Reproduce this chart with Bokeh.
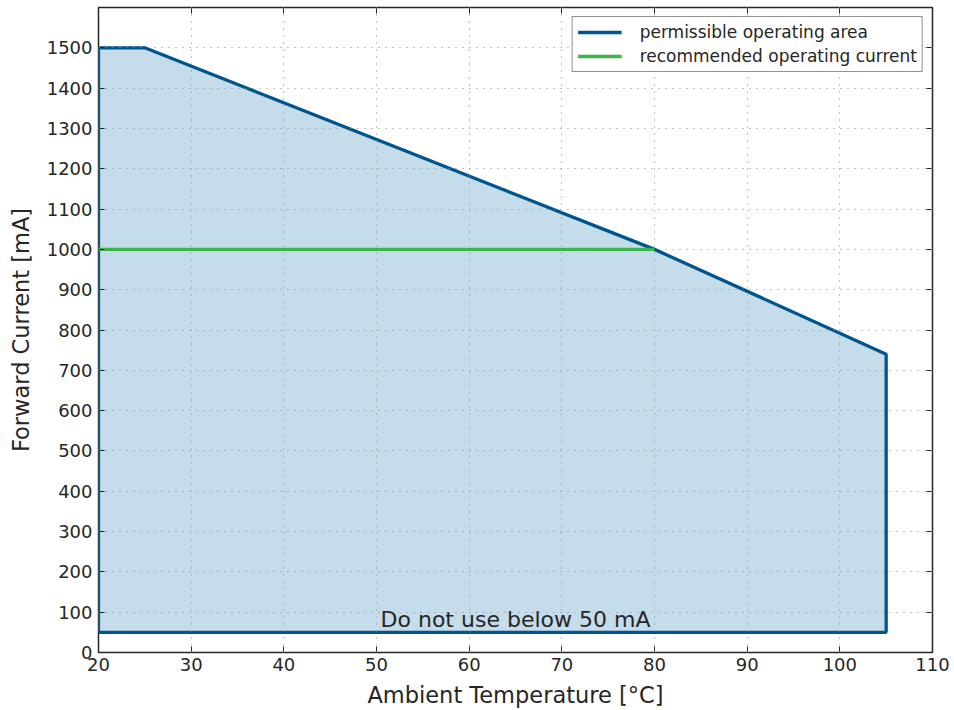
from bokeh.plotting import figure
from bokeh.models import (LinearAxis, Range1d, Legend, LegendItem, ColumnDataSource, FixedTicker,
                          CustomLabelingPolicy)
from bokeh.core.properties import value
from bokeh.embed import file_html
from bokeh.resources import INLINE

# data
area_temp = [20, 25, 80, 105, 105, 20]
area_current = [1500, 1500, 1000, 740, 50, 50]
rec_temp = [20, 80]
rec_current = [1000, 1000]
note_text = ["Do not use below 50 mA"]
note_x = [65]
note_y = [82]
x_ticks = [20, 30, 40, 50, 60, 70, 80, 90, 100, 110]
y_ticks = list(range(0, 1600, 100))

FONT = "DejaVu Sans"
TXT = "#262626"
BLUE = "#00568c"
GREEN = "#3cb44b"
FILL = "#c5dcea"

p = figure(width=954, height=710, output_backend="svg", toolbar_location=None,
           x_range=Range1d(20, 110), y_range=Range1d(0, 1600),
           min_border_left=98, min_border_right=22, min_border_top=7, min_border_bottom=58,
           x_axis_label="Ambient Temperature [°C]", y_axis_label="Forward Current [mA]")
p.outline_line_color = TXT
p.outline_line_width = 1.5

src = ColumnDataSource(dict(x=area_temp, y=area_current))
p.patch("x", "y", source=src, fill_color=FILL, line_color=None)
r1 = p.line(area_temp + [area_temp[0]], area_current + [area_current[0]], line_color=BLUE, line_width=3.3)
r2 = p.line(rec_temp, rec_current, line_color=GREEN, line_width=3.3)

p.text(x=note_x, y=note_y, text=note_text, text_font=value(FONT), text_font_size="22px",
       text_color=TXT, text_align="center", text_baseline="middle")

for ax in p.xaxis + p.yaxis:
    ax.axis_line_color = None
    ax.major_tick_in = 6
    ax.major_tick_out = 0
    ax.minor_tick_line_color = None
    ax.major_tick_line_color = TXT
    ax.major_label_text_font = FONT
    ax.major_label_text_font_size = "18px"
    ax.major_label_text_color = TXT
    ax.axis_label_text_font = FONT
    ax.axis_label_text_font_size = "22.5px"
    ax.axis_label_text_font_style = "normal"
    ax.axis_label_text_color = TXT
p.xaxis.ticker = FixedTicker(ticks=x_ticks)
p.yaxis.ticker = FixedTicker(ticks=y_ticks)
p.xaxis.major_label_standoff = 5
p.yaxis.major_label_standoff = 6
p.xaxis.axis_label_standoff = 8
p.yaxis.axis_label_standoff = 10

no_labels = CustomLabelingPolicy(code="return new Set()")
top = LinearAxis(ticker=FixedTicker(ticks=x_ticks), major_label_text_font_size="1px",
                 major_label_policy=no_labels,
                 major_label_standoff=0, axis_line_color=None, major_tick_in=6, major_tick_out=0,
                 minor_tick_line_color=None, major_tick_line_color=TXT)
right = LinearAxis(ticker=FixedTicker(ticks=y_ticks), major_label_text_font_size="1px",
                   major_label_policy=CustomLabelingPolicy(code="return new Set()"),
                   major_label_standoff=0, axis_line_color=None, major_tick_in=6, major_tick_out=0,
                   minor_tick_line_color=None, major_tick_line_color=TXT)
p.add_layout(top, "above")
p.add_layout(right, "right")

for g in (p.xgrid[0], p.ygrid[0]):
    g.grid_line_color = "#8a8a8a"
    g.grid_line_dash = "1 6"
    g.grid_line_width = 1
    g.level = "annotation"
p.xgrid.ticker = FixedTicker(ticks=x_ticks)
p.ygrid.ticker = FixedTicker(ticks=y_ticks)

legend = Legend(items=[LegendItem(label="permissible operating area", renderers=[r1]),
                       LegendItem(label="recommended operating current", renderers=[r2])],
                location="top_right")
legend.border_line_color = TXT
legend.border_line_width = 1.5
legend.label_text_font = FONT
legend.label_text_font_size = "17px"
legend.label_text_color = TXT
legend.glyph_width = 44
legend.label_standoff = 18
legend.label_height = 20
legend.glyph_height = 20
legend.spacing = 4
legend.margin = 9
legend.padding = 5
legend.background_fill_alpha = 1
p.add_layout(legend)

open("out.html", "w").write(file_html(p, INLINE))
